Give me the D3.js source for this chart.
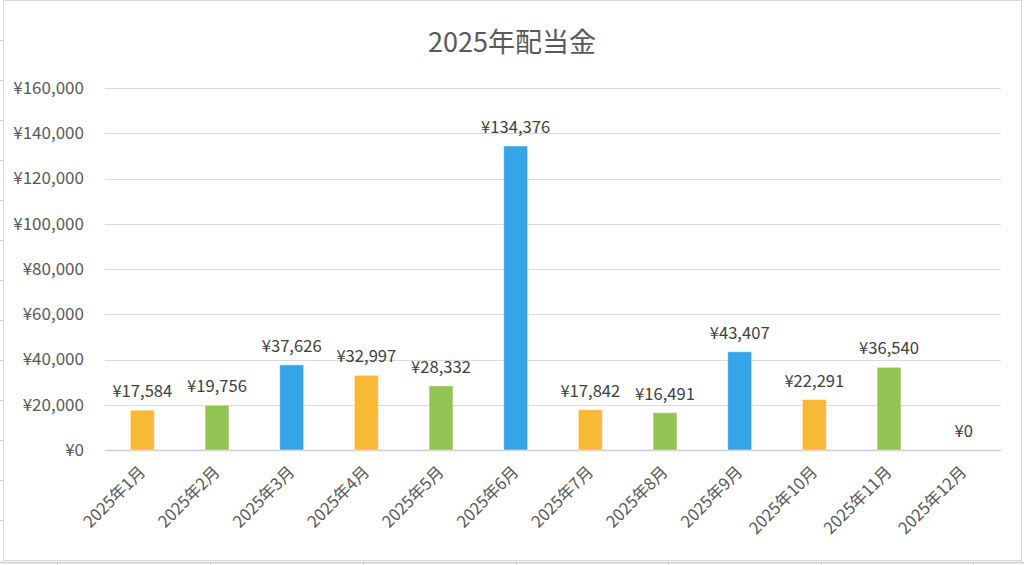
<!DOCTYPE html>
<html><head><meta charset="utf-8">
<script src="https://cdn.jsdelivr.net/npm/d3@7"></script>
<style>
html,body{margin:0;padding:0;background:#fff;}
svg{display:block;}
text{font-family:"Noto Sans CJK JP","Open Sans",sans-serif;}
</style></head>
<body>
<svg id="chart" width="1024" height="565"></svg>
<script>
const title = "2025年配当金";
const months = ["2025年1月","2025年2月","2025年3月","2025年4月","2025年5月","2025年6月","2025年7月","2025年8月","2025年9月","2025年10月","2025年11月","2025年12月"];
const values = [17584,19756,37626,32997,28332,134376,17842,16491,43407,22291,36540,0];
const barColors = ["#F9B935","#92C453","#36A5E8"];
const yTicks = [0,20000,40000,60000,80000,100000,120000,140000,160000];

(function(){
const svg = d3.select("#chart");
const W = 1024, H = 565;

// sheet-like surroundings
svg.append("rect").attr("x",0).attr("y",561).attr("width",W).attr("height",4).attr("fill","#f2f2f2");
svg.append("line").attr("x1",0).attr("x2",W).attr("y1",562.5).attr("y2",562.5).attr("stroke","#d0d0d0");
[57,210,363,516,668,821,973].forEach(xx=>{
  svg.append("line").attr("x1",xx+0.5).attr("x2",xx+0.5).attr("y1",562).attr("y2",565).attr("stroke","#c8c8c8");
});
for(let yy=40;yy<560;yy+=40){
  svg.append("line").attr("x1",0).attr("x2",3).attr("y1",yy+0.5).attr("y2",yy+0.5).attr("stroke","#d0d0d0");
}
// chart frame
svg.append("rect").attr("x",3.5).attr("y",0.5).attr("width",1018).attr("height",560)
  .attr("fill","#fff").attr("stroke","#d9d9d9");

const pLeft = 105, pRight = 1001, pTop = 88, pBottom = 450;
const x = d3.scaleBand().domain(months).range([pLeft,pRight]).paddingInner(0.68).paddingOuter(0.34);
const y = d3.scaleLinear().domain([0,160000]).range([pBottom,pTop]);

// gridlines
svg.append("g").selectAll("line").data(yTicks).join("line")
  .attr("x1",pLeft).attr("x2",pRight)
  .attr("y1",d=>Math.round(y(d))+0.5).attr("y2",d=>Math.round(y(d))+0.5)
  .attr("stroke",d=>d===0?"#d0d0d0":"#d9d9d9").attr("stroke-width",d=>d===0?1.5:1);

// y axis labels
const fmt = d => "¥" + d3.format(",")(d);
const yAxis = d3.axisLeft(y).tickValues(yTicks).tickFormat(fmt).tickSize(0).tickPadding(0);
const gy = svg.append("g").attr("transform",`translate(84,0)`).call(yAxis);
gy.select(".domain").remove();
gy.selectAll("text").attr("fill","#595959").style("font-size","17px")
  .style("font-family",'"Noto Sans CJK JP",sans-serif');

// bars
svg.append("g").selectAll("rect").data(values).join("rect")
  .attr("x",(d,i)=>x(months[i]))
  .attr("y",d=>y(d))
  .attr("width",x.bandwidth())
  .attr("height",d=>pBottom-y(d))
  .attr("fill",(d,i)=>barColors[i%3])
  .attr("stroke","#ffffff").attr("stroke-opacity",0.45).attr("stroke-width",1);

// value labels
svg.append("g").selectAll("text").data(values).join("text")
  .attr("x",(d,i)=>x(months[i])+x.bandwidth()/2)
  .attr("y",d=>y(d)-13)
  .attr("text-anchor","middle")
  .attr("fill","#404040").style("font-size","16.6px")
  .text(d=>fmt(d));

// x axis labels
const xAxis = d3.axisBottom(x).tickSize(0).tickPadding(0);
const gx = svg.append("g").attr("transform",`translate(0,${pBottom})`).call(xAxis);
gx.select(".domain").remove();
gx.selectAll("text")
  .attr("text-anchor","end")
  .attr("dy",0)
  .attr("transform","translate(4,23) rotate(-45)")
  .attr("fill","#595959").style("font-size","16.5px")
  .style("font-family",'"Noto Sans CJK JP",sans-serif');

// title
svg.append("text").attr("x",512).attr("y",52).attr("text-anchor","middle")
  .attr("fill","#595959").style("font-size","27px").text(title);
})();
</script>
</body></html>
